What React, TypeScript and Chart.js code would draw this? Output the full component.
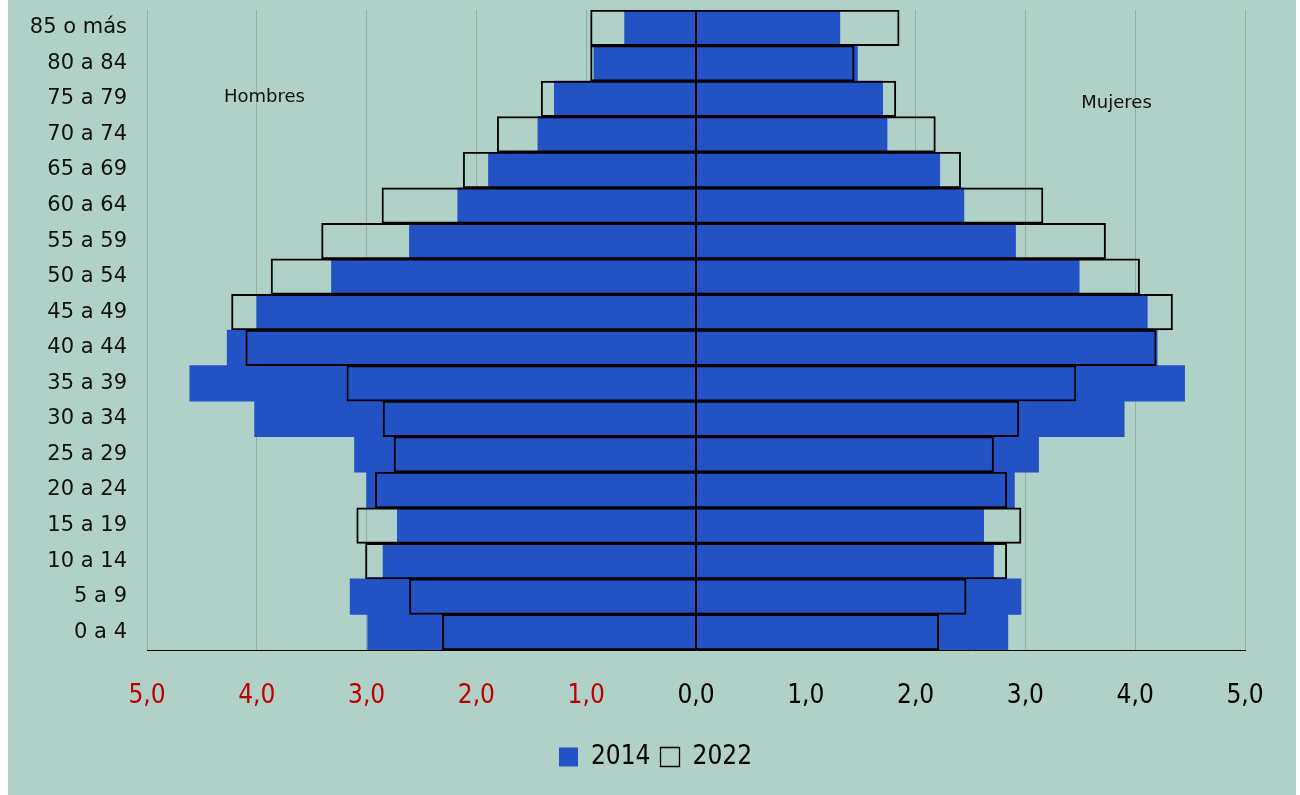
import React, { useEffect, useRef } from "react";
import { Chart, registerables } from "chart.js";

Chart.register(...registerables);

const ageGroups = [
  "85 o más", "80 a 84", "75 a 79", "70 a 74", "65 a 69", "60 a 64",
  "55 a 59", "50 a 54", "45 a 49", "40 a 44", "35 a 39", "30 a 34",
  "25 a 29", "20 a 24", "15 a 19", "10 a 14", "5 a 9", "0 a 4",
];

const men2014 = [-0.65, -0.93, -1.29, -1.44, -1.89, -2.17, -2.61, -3.32, -4.0, -4.27, -4.61, -4.02, -3.11, -3.0, -2.72, -2.85, -3.15, -2.99];
const women2014 = [1.31, 1.47, 1.7, 1.74, 2.22, 2.44, 2.91, 3.49, 4.11, 4.2, 4.45, 3.9, 3.12, 2.9, 2.62, 2.71, 2.96, 2.84];
const men2022 = [-0.96, -0.96, -1.41, -1.81, -2.12, -2.86, -3.41, -3.87, -4.23, -4.1, -3.18, -2.85, -2.75, -2.92, -3.09, -3.01, -2.61, -2.31];
const women2022 = [1.85, 1.44, 1.82, 2.18, 2.41, 3.16, 3.73, 4.04, 4.34, 4.19, 3.46, 2.94, 2.71, 2.83, 2.96, 2.83, 2.46, 2.21];

const seriesLabels = ["2014", "2022"];
const xMin = -5;
const xMax = 5;
const xStep = 1;

const menLabel = "Hombres";
const womenLabel = "Mujeres";

const BG = "rgb(176,209,200)";
const BLUE = "rgb(35,82,197)";
const GRID = "rgb(148,172,164)";

const overlayPlugin = {
  id: "overlay",
  afterLayout(chart: any) {
    const lg = chart.legend;
    if (lg) {
      lg.left += 29;
      lg.right += 29;
    }
  },
  afterDatasetsDraw(chart: any) {
    const { ctx, chartArea, scales } = chart;
    const x = scales.x;
    const y = scales.y;
    ctx.save();
    const x0 = x.getPixelForValue(0);
    ctx.strokeStyle = "#000";
    ctx.lineWidth = 2;
    ctx.beginPath();
    ctx.moveTo(x0, chartArea.top);
    ctx.lineTo(x0, chartArea.bottom);
    ctx.stroke();
    ctx.font = '18px "DejaVu Sans"';
    ctx.fillStyle = "#111";
    ctx.textAlign = "center";
    ctx.textBaseline = "middle";
    ctx.fillText(menLabel, x.getPixelForValue(-3.93), y.getPixelForValue(2) - 2);
    ctx.fillText(womenLabel, x.getPixelForValue(3.83), y.getPixelForValue(2) + 4);
    ctx.restore();
  },
};

export default function App() {
  const ref = useRef<HTMLCanvasElement | null>(null);

  useEffect(() => {
    document.body.style.margin = "0";
    if (!ref.current) return;
    const fmt = (v: number) => Math.abs(v).toFixed(1).replace(".", ",");
    const chart = new Chart(ref.current, {
      type: "bar",
      data: {
        labels: ageGroups,
        datasets: [
          { label: seriesLabels[0], data: men2014, backgroundColor: BLUE, borderWidth: 0, grouped: false, order: 1, barPercentage: 1, categoryPercentage: 1 },
          { label: seriesLabels[0], data: women2014, backgroundColor: BLUE, borderWidth: 0, grouped: false, order: 1, barPercentage: 1, categoryPercentage: 1 },
          { label: seriesLabels[1], data: men2022, backgroundColor: "transparent", borderColor: "#000", borderWidth: 1.3, grouped: false, order: 0, barPercentage: 1, categoryPercentage: 1 },
          { label: seriesLabels[1], data: women2022, backgroundColor: "transparent", borderColor: "#000", borderWidth: 1.3, grouped: false, order: 0, barPercentage: 1, categoryPercentage: 1 },
        ] as any,
      },
      options: {
        indexAxis: "y",
        responsive: false,
        animation: false,
        devicePixelRatio: 1,
        layout: { padding: { left: 0, right: 51, top: 10, bottom: 15 } },
        scales: {
          x: {
            min: xMin,
            max: xMax,
            afterFit: (s: any) => { s.height = 84; },
            ticks: {
              stepSize: xStep,
              padding: 31,
              maxRotation: 0,
              font: { family: "DejaVu Sans Condensed", size: 26 },
              color: (c: any) => (c.tick && c.tick.value < 0 ? "#c00000" : "#000000"),
              callback: (v: any) => fmt(Number(v)),
            },
            grid: { color: GRID, lineWidth: 1, drawTicks: false },
            border: { display: true, color: "#000", width: 1 },
          },
          y: {
            afterFit: (s: any) => { s.width = 139; s.paddingTop = 0; s.paddingBottom = 0; },
            grid: { display: false, drawTicks: false },
            border: { display: false },
            ticks: {
              padding: 20,
              font: { family: "DejaVu Sans", size: 21 },
              color: "#111",
              autoSkip: false,
            },
          },
        },
        plugins: {
          legend: {
            position: "bottom",
            labels: {
              font: { family: "DejaVu Sans Condensed", size: 26 },
              color: "#000",
              boxWidth: 19,
              boxHeight: 19,
              padding: 10,
              filter: (item: any) => item.datasetIndex === 0 || item.datasetIndex === 2,
              sort: (a: any, b: any) => a.datasetIndex - b.datasetIndex,
            },
          },
          tooltip: { enabled: false },
        },
      } as any,
      plugins: [overlayPlugin],
    });
    return () => chart.destroy();
  }, []);

  return (
    <div style={{ marginLeft: 8, width: 1288, height: 795, background: BG }}>
      <canvas ref={ref} width={1288} height={795} style={{ display: "block" }} />
    </div>
  );
}
